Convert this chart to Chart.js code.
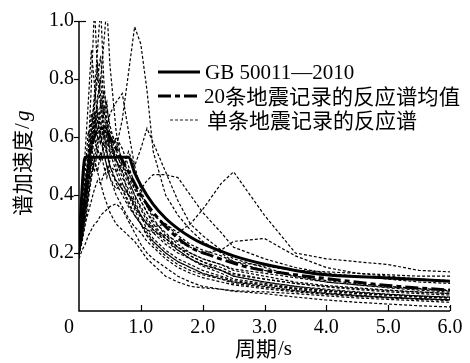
<!DOCTYPE html>
<html>
<head>
<meta charset="utf-8">
<script src="https://cdn.jsdelivr.net/npm/chart.js@4.4.1/dist/chart.umd.min.js"></script>
<style>
  html,body{margin:0;padding:0;background:#fff}
  #wrap{width:470px;height:363px}
</style>
</head>
<body>
<div id="wrap"><canvas id="c" width="470" height="363"></canvas></div>
<script>
/* 反应谱对比图 — 数据从原图读取 */

/* 周期 (s)，单条记录共用 */
const PERIODS = [0, 0.05, 0.1, 0.15, 0.2, 0.25, 0.3, 0.35, 0.4, 0.45, 0.5, 0.6, 0.7, 0.8, 0.9, 1.0,
                 1.1, 1.2, 1.4, 1.6, 1.8, 2.0, 2.3, 2.5, 3.0, 3.5, 4.0, 4.5, 5.0, 5.5, 6.0];

/* 单条地震记录的反应谱 (g) */
const REC_01 = [0.22,0.30,0.42,0.55,0.78,1.05,0.82,0.70,0.62,0.55,0.50,0.44,0.40,0.36,0.33,0.30,0.26,0.24,0.20,0.17,0.15,0.13,0.11,0.10,0.085,0.07,0.06,0.052,0.046,0.042,0.038];
const REC_02 = [0.24,0.33,0.45,0.52,0.62,0.75,0.90,1.05,0.80,0.66,0.58,0.52,0.46,0.42,0.36,0.32,0.30,0.28,0.24,0.21,0.18,0.16,0.14,0.12,0.10,0.085,0.075,0.066,0.058,0.052,0.048];
const REC_03 = [0.20,0.28,0.36,0.48,0.58,0.66,0.72,0.80,0.92,1.05,0.85,0.62,0.50,0.45,0.40,0.36,0.32,0.29,0.25,0.22,0.19,0.17,0.15,0.13,0.11,0.095,0.083,0.074,0.066,0.06,0.055];
const REC_04 = [0.21,0.26,0.34,0.40,0.46,0.52,0.48,0.55,0.50,0.46,0.52,0.56,0.66,0.82,0.98,0.92,0.76,0.55,0.40,0.33,0.28,0.24,0.20,0.17,0.14,0.12,0.105,0.095,0.085,0.078,0.072];
const REC_05 = [0.19,0.24,0.30,0.34,0.38,0.42,0.45,0.44,0.47,0.50,0.48,0.45,0.42,0.40,0.36,0.33,0.30,0.29,0.30,0.27,0.30,0.35,0.44,0.48,0.33,0.20,0.18,0.17,0.16,0.14,0.135];
const REC_06 = [0.22,0.28,0.38,0.46,0.55,0.60,0.66,0.58,0.62,0.56,0.60,0.52,0.48,0.55,0.50,0.56,0.63,0.58,0.48,0.38,0.30,0.26,0.21,0.18,0.15,0.12,0.10,0.09,0.08,0.072,0.065];
const REC_07 = [0.20,0.25,0.32,0.40,0.48,0.52,0.58,0.62,0.55,0.50,0.46,0.42,0.44,0.40,0.38,0.42,0.45,0.47,0.47,0.46,0.40,0.34,0.27,0.22,0.18,0.15,0.13,0.12,0.11,0.10,0.095];
const REC_08 = [0.22,0.30,0.40,0.50,0.58,0.64,0.70,0.65,0.60,0.55,0.50,0.45,0.42,0.38,0.33,0.30,0.28,0.27,0.26,0.24,0.22,0.20,0.21,0.24,0.25,0.19,0.15,0.13,0.12,0.11,0.105];
const REC_09 = [0.21,0.27,0.36,0.44,0.50,0.55,0.60,0.58,0.64,0.62,0.68,0.72,0.75,0.62,0.50,0.42,0.36,0.32,0.26,0.22,0.19,0.17,0.14,0.12,0.10,0.085,0.072,0.064,0.057,0.052,0.047];
const REC_10 = [0.18,0.21,0.23,0.26,0.28,0.30,0.31,0.33,0.34,0.35,0.36,0.37,0.35,0.31,0.27,0.23,0.20,0.18,0.15,0.12,0.10,0.085,0.075,0.068,0.06,0.048,0.038,0.03,0.024,0.018,0.014];
const REC_11 = [0.23,0.35,0.55,0.72,0.90,0.78,0.66,0.60,0.54,0.50,0.46,0.40,0.36,0.32,0.29,0.27,0.24,0.22,0.18,0.15,0.13,0.115,0.10,0.09,0.077,0.066,0.057,0.05,0.045,0.04,0.036];
const REC_12 = [0.26,0.34,0.48,0.62,0.58,0.70,0.86,0.74,0.68,0.72,0.60,0.50,0.44,0.40,0.37,0.33,0.30,0.27,0.23,0.20,0.18,0.16,0.14,0.125,0.11,0.095,0.085,0.077,0.07,0.065,0.06];
const REC_13 = [0.20,0.26,0.32,0.42,0.52,0.60,0.55,0.62,0.70,0.62,0.56,0.52,0.48,0.44,0.38,0.33,0.28,0.25,0.21,0.18,0.16,0.14,0.12,0.105,0.09,0.075,0.063,0.055,0.048,0.043,0.039];
const REC_14 = [0.24,0.30,0.40,0.55,0.68,0.62,0.74,0.80,0.66,0.58,0.62,0.58,0.52,0.45,0.40,0.35,0.31,0.28,0.25,0.22,0.20,0.18,0.16,0.145,0.13,0.115,0.10,0.09,0.082,0.076,0.07];
const REC_15 = [0.22,0.28,0.37,0.45,0.52,0.48,0.56,0.52,0.58,0.54,0.50,0.48,0.52,0.48,0.42,0.38,0.34,0.30,0.25,0.21,0.18,0.155,0.13,0.11,0.095,0.08,0.07,0.062,0.055,0.05,0.046];
const REC_16 = [0.21,0.30,0.44,0.50,0.64,0.72,0.80,0.88,0.72,0.64,0.55,0.48,0.42,0.37,0.33,0.30,0.27,0.24,0.20,0.17,0.15,0.13,0.115,0.10,0.09,0.078,0.068,0.06,0.054,0.048,0.044];
const REC_17 = [0.19,0.24,0.30,0.38,0.46,0.52,0.48,0.44,0.40,0.37,0.34,0.30,0.28,0.26,0.24,0.21,0.18,0.16,0.12,0.10,0.085,0.08,0.075,0.07,0.066,0.06,0.052,0.045,0.04,0.035,0.03];
const REC_18 = [0.23,0.30,0.40,0.48,0.56,0.62,0.68,0.64,0.60,0.66,0.58,0.54,0.50,0.46,0.42,0.40,0.36,0.33,0.30,0.26,0.23,0.21,0.19,0.17,0.155,0.14,0.135,0.13,0.125,0.12,0.12];
const REC_19 = [0.20,0.27,0.36,0.44,0.56,0.66,0.60,0.68,0.76,0.70,0.64,0.56,0.48,0.40,0.35,0.30,0.26,0.23,0.19,0.16,0.14,0.125,0.11,0.095,0.082,0.07,0.06,0.053,0.047,0.042,0.038];
const REC_20 = [0.25,0.32,0.42,0.52,0.60,0.68,0.62,0.72,0.64,0.60,0.54,0.60,0.56,0.50,0.44,0.38,0.34,0.31,0.27,0.23,0.20,0.18,0.16,0.14,0.12,0.10,0.088,0.08,0.072,0.066,0.06];
const RECORDS = [REC_01,REC_02,REC_03,REC_04,REC_05,REC_06,REC_07,REC_08,REC_09,REC_10,
                 REC_11,REC_12,REC_13,REC_14,REC_15,REC_16,REC_17,REC_18,REC_19,REC_20];

/* 20条记录均值 */
const MEAN_T = [0, 0.05, 0.1, 0.15, 0.2, 0.3, 0.4, 0.5, 0.6, 0.7, 0.8, 0.9, 1.0, 1.2, 1.5, 1.8, 2.15, 2.75, 3.5, 4.0, 5.0, 6.0];
const MEAN_V = [0.22,0.29,0.38,0.47,0.56,0.62,0.63,0.60,0.56,0.52,0.48,0.44,0.40,0.34,0.27,0.22,0.19,0.15,0.125,0.112,0.088,0.072];

/* GB 50011—2010 设计谱 */
const GB_T = [0, 0.1, 0.8, 0.9, 1.0, 1.2, 1.4, 1.6, 1.8, 2.0, 2.5, 3.0, 3.5, 4.0, 5.0, 6.0];
const GB_V = [0.24,0.53,0.53,0.476,0.434,0.368,0.32,0.284,0.255,0.232,0.19,0.161,0.14,0.125,0.114,0.103];

const X_TICKS  = [0, 1, 2, 3, 4, 5, 6];
const X_LABELS = ['0','1.0','2.0','3.0','4.0','5.0','6.0'];
const Y_TICKS  = [0.2, 0.4, 0.6, 0.8, 1.0];
const Y_LABELS = ['0.2','0.4','0.6','0.8','1.0'];
const LEGEND_LABELS = ['GB 50011—2010', '20条地震记录的反应谱均值', '单条地震记录的反应谱'];

const SERIF = "'Liberation Serif', 'Times New Roman', serif";
const CJK = "'Noto Sans CJK SC', sans-serif";
const DASH_MEAN = [13,4,5,4];
const DASH_REC = [3,2];

const pts = (xs, ys) => xs.map((x,i)=>({x, y:ys[i]}));

const datasets = [
  { label:LEGEND_LABELS[0], data:pts(GB_T, GB_V), borderColor:'#000', borderWidth:3,
    cubicInterpolationMode:'monotone', pointRadius:0, order:0 },
  { label:LEGEND_LABELS[1], data:pts(MEAN_T, MEAN_V), borderColor:'#000', borderWidth:3,
    borderDash:DASH_MEAN, cubicInterpolationMode:'monotone', pointRadius:0, order:1 }
].concat(RECORDS.map((r,i)=>({
  label:LEGEND_LABELS[2] + (i+1), data:pts(PERIODS, r), borderColor:'#000', borderWidth:1.2,
  borderDash:DASH_REC, tension:0, pointRadius:0, order:2
})));

/* CJK 文字按目标宽度绘制 */
function fillFit(ctx, text, x, y, width){
  const w = ctx.measureText(text).width;
  ctx.save();
  ctx.translate(x, y); ctx.scale(width / w, 1);
  ctx.fillText(text, 0, 0);
  ctx.restore();
}

/* ── 坐标轴、刻度、标题、图例 ───────────────────────────── */
const framePlugin = {
  id:'frame',
  afterDraw(chart){
    const { ctx, chartArea:a, scales:{x, y} } = chart;
    ctx.save();
    ctx.strokeStyle = '#000'; ctx.fillStyle = '#000';
    ctx.lineWidth = 1.5; ctx.setLineDash([]);
    ctx.beginPath();
    ctx.moveTo(a.left, a.top); ctx.lineTo(a.left, a.bottom); ctx.lineTo(a.right, a.bottom);
    ctx.stroke();

    // x 刻度 (朝内)
    ctx.lineWidth = 1.2;
    X_TICKS.forEach(v=>{
      if(v === 0) return;
      const px = Math.round(x.getPixelForValue(v)) + 0.5;
      ctx.beginPath(); ctx.moveTo(px, a.bottom); ctx.lineTo(px, a.bottom - 6); ctx.stroke();
    });
    // y 刻度 (朝外)
    Y_TICKS.forEach(v=>{
      const py = Math.round(y.getPixelForValue(v)) + 0.5;
      ctx.beginPath(); ctx.moveTo(a.left - 5, py); ctx.lineTo(a.left, py); ctx.stroke();
    });
    const pyTop = Math.round(y.getPixelForValue(1.0)) + 0.5;
    ctx.beginPath(); ctx.moveTo(a.left, pyTop); ctx.lineTo(a.left + 7, pyTop); ctx.stroke();

    ctx.font = `20px ${SERIF}`;
    ctx.textBaseline = 'middle';
    ctx.textAlign = 'center';
    X_TICKS.forEach((v,i)=>{
      const px = v === 0 ? x.getPixelForValue(v) - 10 : x.getPixelForValue(v);
      ctx.fillText(X_LABELS[i], px, a.bottom + 17);
    });
    ctx.textAlign = 'right';
    Y_TICKS.forEach((v,i)=> ctx.fillText(Y_LABELS[i], a.left - 5, y.getPixelForValue(v)));

    // x 轴标题
    ctx.textAlign = 'left';
    ctx.font = `21px ${CJK}`;
    fillFit(ctx, '周期', 235, 348, 42);
    ctx.font = `21px ${SERIF}`; ctx.fillText('/s', 278, 349);

    // y 轴标题 (竖排)
    ctx.save();
    ctx.translate(22, 162); ctx.rotate(-Math.PI/2);
    ctx.font = `21px ${CJK}`;
    fillFit(ctx, '谱加速度', -54, 0, 86);
    ctx.font = `21px ${SERIF}`; ctx.fillText('/', 33, 1);
    ctx.font = `italic 21px ${SERIF}`; ctx.fillText('g', 41, 1);
    ctx.restore();

    // 图例
    const rows = [72, 96, 120];
    ctx.lineWidth = 3;
    ctx.beginPath(); ctx.moveTo(158, rows[0]); ctx.lineTo(200, rows[0]); ctx.stroke();
    ctx.setLineDash(DASH_MEAN);
    ctx.beginPath(); ctx.moveTo(158, rows[1]); ctx.lineTo(201, rows[1]); ctx.stroke();
    ctx.lineWidth = 0.9; ctx.setLineDash(DASH_REC);
    ctx.beginPath(); ctx.moveTo(170, rows[2]); ctx.lineTo(200, rows[2]); ctx.stroke();
    ctx.setLineDash([]);

    ctx.textAlign = 'left';
    ctx.font = `21px ${SERIF}`;
    ctx.fillText(LEGEND_LABELS[0], 205, rows[0] + 1);
    ctx.fillText('20', 204, rows[1] + 1);
    const d20 = ctx.measureText('20').width;
    ctx.font = `21px ${CJK}`;
    fillFit(ctx, LEGEND_LABELS[1].slice(2), 204 + d20, rows[1], 460 - 204 - d20);
    fillFit(ctx, LEGEND_LABELS[2], 207, rows[2], 210);
    ctx.restore();
  }
};

new Chart(document.getElementById('c'), {
  type:'line',
  data:{ datasets },
  plugins:[framePlugin],
  options:{
    responsive:false, animation:false, devicePixelRatio:1,
    layout:{ padding:{ left:79, top:21, right:20, bottom:52 } },
    plugins:{ legend:{display:false}, tooltip:{enabled:false} },
    scales:{
      x:{ type:'linear', min:0, max:6, display:false },
      y:{ type:'linear', min:0, max:1.0, display:false }
    }
  }
});
</script>
</body>
</html>
